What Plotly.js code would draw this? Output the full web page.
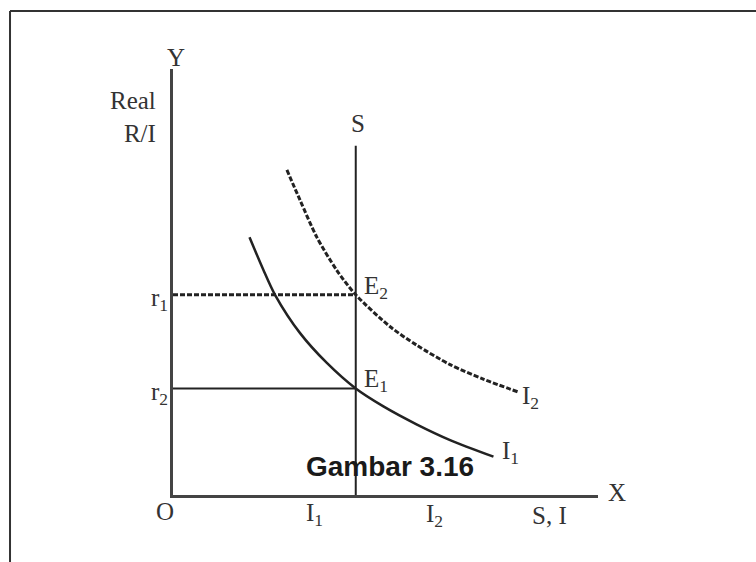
<!DOCTYPE html>
<html>
<head>
<meta charset="utf-8">
<script src="https://cdn.plot.ly/plotly-3.0.1.min.js"></script>
<style>
  html, body { margin: 0; padding: 0; background: #fff; }
  #chart { width: 756px; height: 562px; }
</style>
</head>
<body>
<div id="chart"></div>
<script>
// Investment schedule I1 (solid) and shifted schedule I2 (dashed)
const i1X = [18, 21.2, 24, 29.9, 36.2, 43, 49.5, 57.3, 65.2, 75.4];
const i1Y = [60.5, 53, 47, 38, 31, 25, 20.8, 16.6, 12.9, 9.0];
const i2X = [26.8, 29.9, 33.8, 38.5, 43, 51.1, 57.3, 65.2, 73.0, 81.2];
const i2Y = [76.3, 69.2, 60.6, 52.8, 47, 39.5, 35.2, 30.6, 27.2, 24.2];

// Fixed saving line S and the two interest rates
const savingLevel = 43;
const savingTop = 82;
const rateR1 = 47;
const rateR2 = 25;

const ink = '#222';
const serif = 'Liberation Serif, Times New Roman, serif';
const dashed = '5px,2px';

const traces = [
  { x: [savingLevel, savingLevel], y: [0, savingTop], mode: 'lines',
    line: { color: ink, width: 2 } },
  { x: [0, savingLevel], y: [rateR1, rateR1], mode: 'lines',
    line: { color: ink, width: 3, dash: dashed } },
  { x: [0, savingLevel], y: [rateR2, rateR2], mode: 'lines',
    line: { color: ink, width: 2 } },
  { x: i1X, y: i1Y, mode: 'lines', line: { color: ink, width: 2.5, shape: 'spline', smoothing: 0.8 } },
  { x: i2X, y: i2Y, mode: 'lines', line: { color: ink, width: 3, dash: dashed, shape: 'spline', smoothing: 0.8 } }
];

// Labels are placed in axis units (0-100) converted to the plot's paper fraction
function label(text, x, y, xanchor, extra) {
  return Object.assign({
    text: text, x: x / 100, y: y / 100, xref: 'paper', yref: 'paper', showarrow: false,
    xanchor: xanchor || 'center', yanchor: 'middle',
    font: { family: serif, size: 25, color: '#333' }
  }, extra || {});
}

const annotations = [
  label('Y', 0.7, 102.8),
  label('Real<br>R/I', -3.6, 88.8, 'right', { align: 'right' }),
  label('S', 43.5, 87.3),
  label('r<sub>1</sub>', -0.7, 45.8, 'right'),
  label('r<sub>2</sub>', -0.7, 23.9, 'right'),
  label('E<sub>2</sub>', 44.5, 48.6, 'left'),
  label('E<sub>1</sub>', 44.5, 26.8, 'left'),
  label('I<sub>2</sub>', 81.6, 22.8, 'left'),
  label('I<sub>1</sub>', 76.9, 9.9, 'left'),
  label('O', -1.8, -3.9),
  label('I<sub>1</sub>', 33.2, -4.5),
  label('I<sub>2</sub>', 61.6, -4.9),
  label('S, I', 88.7, -4.7),
  label('X', 104.5, 0.5),
  label('Gambar 3.16', 51.1, 6.8, 'center', {
    font: { family: 'Liberation Sans, Arial, sans-serif', size: 28, color: '#1a1a1a', weight: 'bold' }
  })
];

const frame = { color: '#333', width: 2 };
const layout = {
  width: 756, height: 562,
  margin: { l: 173, r: 158, t: 69, b: 67, pad: 0 },
  paper_bgcolor: '#fff', plot_bgcolor: '#fff',
  showlegend: false,
  xaxis: { range: [0, 100], showgrid: false, zeroline: false, showticklabels: false,
           ticks: '', showline: true, linecolor: '#444', linewidth: 3, fixedrange: true },
  yaxis: { range: [0, 100], showgrid: false, zeroline: false, showticklabels: false,
           ticks: '', showline: true, linecolor: '#444', linewidth: 3, fixedrange: true },
  annotations: annotations,
  shapes: [
    { type: 'line', xref: 'paper', yref: 'paper', x0: -0.3835, x1: 1.4, y0: 1.136, y1: 1.136, line: frame },
    { type: 'line', xref: 'paper', yref: 'paper', x0: -0.3835, x1: -0.3835, y0: -0.2, y1: 1.136, line: frame }
  ]
};

Plotly.newPlot('chart', traces, layout, { staticPlot: true, displayModeBar: false });
</script>
</body>
</html>
